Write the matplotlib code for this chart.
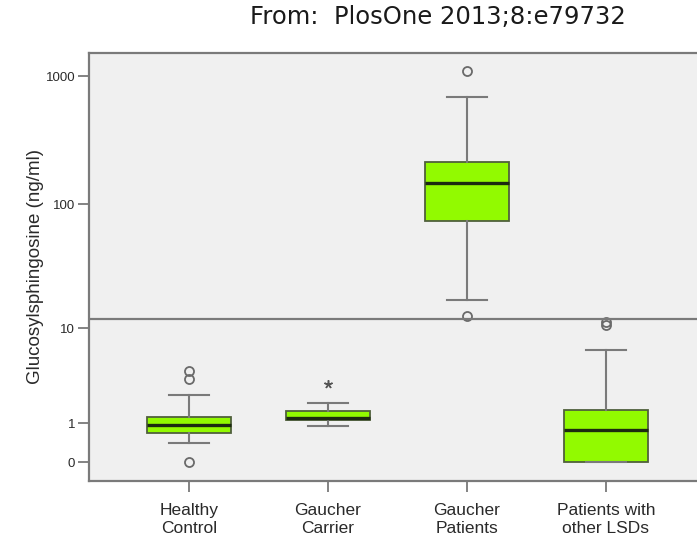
import numpy as np
import matplotlib
matplotlib.use("Agg")
import matplotlib.pyplot as plt

C_PANEL = "#F0F0F0"
C_AXIS  = "#7A7A7A"
C_BOX   = "#92FA00"
C_EDGE  = "#50603C"
C_MED   = "#1C2A10"
C_TEXT  = "#2A2A2A"

# ── Data (ng/ml) ─────────────────────────────────────────────────────────────
groups   = ["Healthy\nControl", "Gaucher\nCarrier", "Gaucher\nPatients", "Patients with\nother LSDs"]
q1       = [0.68, 1.12, 73.7, 0.0]
median   = [0.94, 1.20, 146.5, 0.77]
q3       = [1.24, 1.49, 213.7, 1.54]
whis_lo  = [0.41, 0.90, 17.2, 0.0]
whis_hi  = [2.32, 1.87, 686.0, 6.42]
outliers = [[4.10, 3.42, 0.0], [], [1093.0, 12.6], [10.6, 11.2]]
extremes = [[], [3.04], [], []]
y_ticks  = [0, 1, 10, 100, 1000]
break_at = 11.9


def fwd(v):
    return np.log10(np.asarray(v, dtype=float) + 1.0)


def inv(v):
    return 10.0 ** np.asarray(v, dtype=float) - 1.0


plt.rcParams["font.family"] = ["Liberation Sans", "DejaVu Sans"]

fig = plt.figure(figsize=(6.97, 5.41), dpi=100)
fig.patch.set_facecolor("white")
# axes run past the right edge of the figure, as in the cropped original
ax = fig.add_axes([89 / 697, 60 / 541, 617 / 697, 428 / 541])
ax.set_facecolor(C_PANEL)
ax.set_yscale("function", functions=(fwd, inv))

stats = []
for i in range(len(groups)):
    stats.append(dict(q1=q1[i], med=median[i], q3=q3[i],
                      whislo=whis_lo[i], whishi=whis_hi[i],
                      fliers=outliers[i]))

pos = np.arange(1, len(groups) + 1)
ax.bxp(stats, positions=pos, widths=0.6, patch_artist=True,
       boxprops=dict(facecolor=C_BOX, edgecolor=C_EDGE, linewidth=1.3),
       medianprops=dict(color=C_MED, linewidth=2.4),
       whiskerprops=dict(color=C_AXIS, linewidth=1.5),
       capprops=dict(color=C_AXIS, linewidth=1.5),
       capwidths=0.29,
       flierprops=dict(marker="o", markersize=6.5, markerfacecolor="none",
                       markeredgecolor="#6A6A6A", markeredgewidth=1.3),
       zorder=3)

# extreme values drawn as stars
for p, vals in zip(pos, extremes):
    if vals:
        ax.plot([p] * len(vals), vals, linestyle="none", marker=(5, 2, 0),
                markersize=6, color="#555555", markeredgewidth=1.1, zorder=4)

# axis break line
ax.axhline(break_at, color=C_AXIS, linewidth=1.6, zorder=5)

ax.set_xlim(0.28, 4.72)
ax.set_ylim(-0.288, 1510)
ax.set_yticks(y_ticks)
ax.set_yticklabels([str(t) for t in y_ticks])
ax.minorticks_off()
ax.set_xticks(pos)
ax.set_xticklabels(groups, fontsize=12.5, color=C_TEXT, linespacing=1.2)

ax.tick_params(axis="y", length=8, width=1.3, color=C_AXIS, pad=2,
               labelsize=9.5, labelcolor=C_TEXT)
ax.tick_params(axis="x", length=8, width=1.3, color=C_AXIS, pad=8)

for side in ["left", "top", "bottom"]:
    ax.spines[side].set_color(C_AXIS)
    ax.spines[side].set_linewidth(1.6)
ax.spines["right"].set_visible(False)

ax.set_ylabel("Glucosylsphingosine (ng/ml)", fontsize=13.5, color=C_TEXT,
              labelpad=1)

fig.text(250 / 697, 1 - 17 / 541, "From:  PlosOne 2013;8:e79732",
         fontsize=17.5, color="#1A1A1A", ha="left", va="center",
         family=["DejaVu Sans"])

fig.savefig("out.png", dpi=100, facecolor="white")
